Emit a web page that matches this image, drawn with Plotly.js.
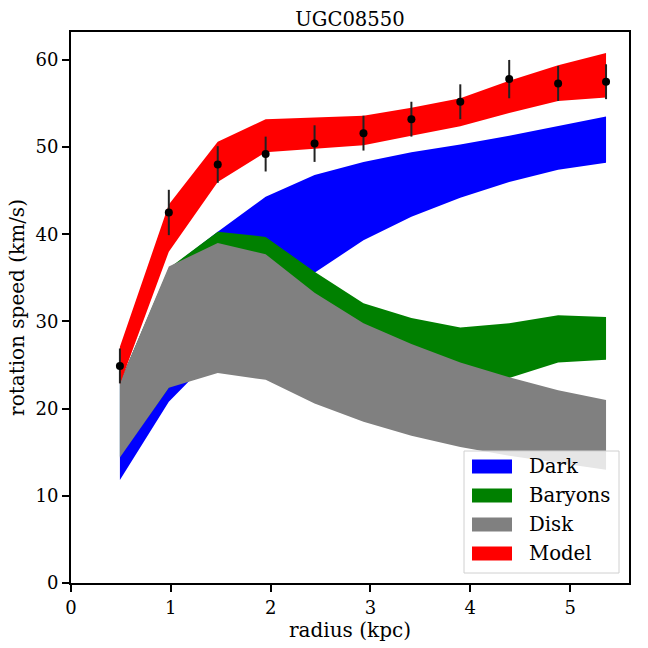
<!DOCTYPE html>
<html>
<head>
<meta charset="utf-8">
<script src="https://cdn.plot.ly/plotly-3.0.1.min.js"></script>
<style>html,body{margin:0;padding:0;background:#fff;}#chart{width:648px;height:648px;}</style>
</head>
<body>
<div id="chart"></div>
<script>
// ---- data ----
const radius = [0.49, 0.98, 1.47, 1.95, 2.44, 2.93, 3.41, 3.90, 4.39, 4.88, 5.36];
const vobs   = [24.9, 42.5, 48.0, 49.2, 50.4, 51.6, 53.2, 55.2, 57.8, 57.3, 57.5];
const verr   = [2.0, 2.6, 2.1, 2.0, 2.1, 2.0, 2.0, 2.0, 2.2, 2.0, 2.0];

const darkLow   = [11.8, 20.8, 26.5, 31.5, 35.6, 39.3, 42.0, 44.2, 46.0, 47.4, 48.2];
const darkHigh  = [23.0, 36.0, 40.3, 44.3, 46.8, 48.3, 49.4, 50.3, 51.3, 52.4, 53.5];
const baryLow   = [14.5, 22.4, 26.0, 26.4, 24.3, 22.1, 21.8, 22.1, 23.5, 25.3, 25.6];
const baryHigh  = [23.0, 36.1, 40.3, 39.7, 35.7, 32.1, 30.4, 29.3, 29.8, 30.7, 30.5];
const diskLow   = [14.4, 22.4, 24.1, 23.3, 20.6, 18.5, 16.9, 15.6, 14.6, 13.8, 13.0];
const diskHigh  = [23.0, 36.3, 39.0, 37.7, 33.3, 29.8, 27.4, 25.3, 23.6, 22.1, 21.0];
const modelLow  = [22.8, 38.0, 46.0, 49.4, 49.8, 50.2, 51.3, 52.4, 53.9, 55.3, 55.7];
const modelHigh = [27.1, 43.4, 50.6, 53.2, 53.4, 53.6, 54.5, 55.6, 57.6, 59.4, 60.8];

const bandNames  = ['Dark', 'Baryons', 'Disk', 'Model'];
const bandColors = ['#0000ff', '#008000', '#808080', '#ff0000'];
const bandLows   = [darkLow, baryLow, diskLow, modelLow];
const bandHighs  = [darkHigh, baryHigh, diskHigh, modelHigh];

const titleText = 'UGC08550';
const xTitle = 'radius (kpc)';
const yTitle = 'rotation speed (km/s)';

// ---- traces ----
const traces = [];
bandNames.forEach((name, i) => {
  traces.push({
    x: radius, y: bandLows[i], type: 'scatter', mode: 'lines',
    line: {width: 0, color: bandColors[i]}, showlegend: false, hoverinfo: 'skip'
  });
  traces.push({
    x: radius, y: bandHighs[i], type: 'scatter', mode: 'lines', name: name,
    line: {width: 0, color: bandColors[i]}, fill: 'tonexty', fillcolor: bandColors[i],
    showlegend: false
  });
});
traces.push({
  x: radius, y: vobs, type: 'scatter', mode: 'markers', name: 'data',
  marker: {color: '#000', size: 8},
  error_y: {type: 'data', array: verr, visible: true, color: '#222', thickness: 2, width: 0},
  showlegend: false
});

// ---- layout ----
const W = 648, H = 648;
const M = {l: 71, r: 19, t: 32, b: 65};
const pw = W - M.l - M.r, ph = H - M.t - M.b;
const px2x = p => (p - M.l) / pw;
const px2y = p => (H - M.b - p) / ph;
const font = '"DejaVu Serif", "Liberation Serif", serif';

const shapes = [];
const annotations = [];
// manual legend box
shapes.push({type: 'rect', xref: 'paper', yref: 'paper',
  x0: px2x(464), x1: px2x(619), y0: px2y(573), y1: px2y(451),
  fillcolor: 'rgba(255,255,255,0.8)', line: {color: '#d0d0d0', width: 1}, layer: 'above'});
bandNames.forEach((name, i) => {
  const cy = 466.5 + 29 * i;
  shapes.push({type: 'rect', xref: 'paper', yref: 'paper',
    x0: px2x(472), x1: px2x(512), y0: px2y(cy + 7), y1: px2y(cy - 7),
    fillcolor: bandColors[i], line: {width: 0}, layer: 'above'});
  annotations.push({xref: 'paper', yref: 'paper', x: px2x(527), y: px2y(cy),
    xanchor: 'left', yanchor: 'middle', text: name, showarrow: false,
    font: {family: font, size: 19.7, color: '#000'}});
});

const axisCommon = {
  showline: true, linewidth: 2, linecolor: '#000', mirror: true,
  ticks: 'outside', ticklen: 7, tickwidth: 2, tickcolor: '#000',
  showgrid: false, zeroline: false,
  tickfont: {family: font, size: 18, color: '#000'}
};

const layout = {
  width: W, height: H, margin: M,
  paper_bgcolor: '#fff', plot_bgcolor: '#fff',
  showlegend: false,
  title: {text: titleText, font: {family: font, size: 19.6, color: '#000'},
          x: 0.5 * (M.l + W - M.r) / W, xanchor: 'center', y: 1 - 19 / H, yanchor: 'middle', yref: 'container'},
  xaxis: Object.assign({}, axisCommon, {range: [0, 5.59], dtick: 1, tick0: 0,
    title: {text: xTitle, font: {family: font, size: 20, color: '#000'}, standoff: 4}}),
  yaxis: Object.assign({}, axisCommon, {range: [0, 63.2], dtick: 10, tick0: 0,
    title: {text: yTitle, font: {family: font, size: 20, color: '#000'}, standoff: 5}}),
  shapes: shapes, annotations: annotations
};

Plotly.newPlot('chart', traces, layout, {displayModeBar: false, staticPlot: true});
</script>
</body>
</html>
